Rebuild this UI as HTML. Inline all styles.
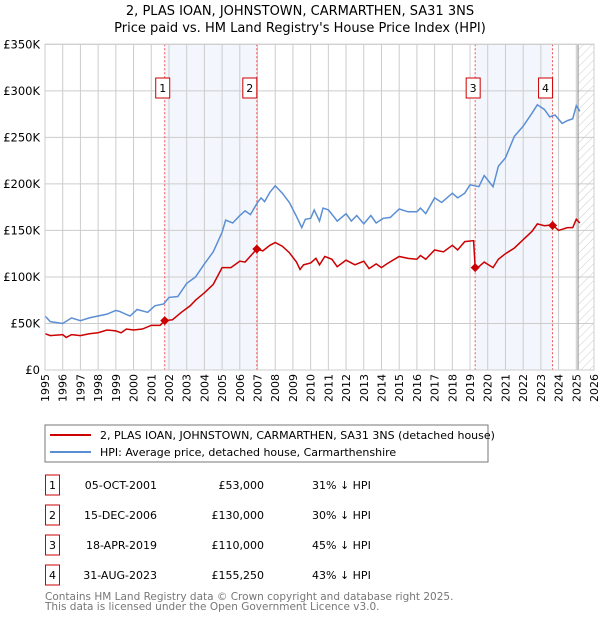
<!DOCTYPE html>
<html><head><meta charset="utf-8"><style>
body{margin:0;background:#fff;width:600px;height:620px;overflow:hidden;font-family:"DejaVu Sans","Liberation Sans",sans-serif}
svg text{font-family:"DejaVu Sans","Liberation Sans",sans-serif}
</style></head><body>
<svg id="c" width="600" height="620" xmlns="http://www.w3.org/2000/svg">
<defs><pattern id="hatch" width="6" height="6" patternUnits="userSpaceOnUse" patternTransform="rotate(45)"><line x1="0" y1="0" x2="0" y2="6" stroke="#ccc" stroke-width="1"/></pattern></defs>
<text x="300" y="15" text-anchor="middle" font-size="13">2, PLAS IOAN, JOHNSTOWN, CARMARTHEN, SA31 3NS</text>
<text x="300" y="32" text-anchor="middle" font-size="13">Price paid vs. HM Land Registry's House Price Index (HPI)</text>
<g id="plot"></g>
<rect x="45" y="425" width="443" height="37" fill="#fff" stroke="#777"/>
<line x1="50" y1="435" x2="91" y2="435" stroke="#cc0000" stroke-width="2"/>
<text x="100" y="439" font-size="11">2, PLAS IOAN, JOHNSTOWN, CARMARTHEN, SA31 3NS (detached house)</text>
<line x1="50" y1="452" x2="91" y2="452" stroke="#5b8fd4" stroke-width="2"/>
<text x="100" y="456" font-size="11">HPI: Average price, detached house, Carmarthenshire</text>
<g id="tbl" font-size="11"></g>
<text x="45" y="600" font-size="10.5" fill="#777">Contains HM Land Registry data © Crown copyright and database right 2025.</text>
<text x="45" y="610" font-size="10.5" fill="#777">This data is licensed under the Open Government Licence v3.0.</text>
</svg>
<script>
const hpiYears=[1995,1995.3,1996,1996.5,1997,1997.5,1998,1998.5,1999,1999.2,1999.8,2000.2,2000.8,2001.2,2001.7,2002,2002.5,2003,2003.5,2004,2004.5,2005,2005.2,2005.6,2006,2006.3,2006.6,2007,2007.2,2007.4,2007.7,2008,2008.4,2008.8,2009.2,2009.5,2009.7,2010,2010.2,2010.5,2010.7,2011,2011.3,2011.5,2012,2012.3,2012.6,2013,2013.4,2013.7,2014.1,2014.5,2015,2015.5,2016,2016.2,2016.5,2017,2017.4,2018,2018.3,2018.7,2019,2019.5,2019.8,2020.3,2020.6,2021,2021.5,2022,2022.5,2022.8,2023.2,2023.5,2023.8,2024.2,2024.5,2024.8,2025.0,2025.2];
const hpiValues=[58,52,50,56,53,56,58,60,64,63,58,65,62,69,71,78,79,93,100,114,127,148,161,158,166,171,167,180,185,181,191,198,190,180,165,153,162,163,172,160,174,172,165,160,168,160,166,157,166,158,163,164,173,170,170,174,168,185,180,190,185,190,199,197,209,197,219,228,251,262,276,285,280,272,274,265,268,270,284,278];
const ppYears=[1995,1995.3,1996,1996.2,1996.5,1997,1997.5,1998,1998.5,1999,1999.3,1999.6,2000,2000.5,2001,2001.5,2001.76,2002.2,2002.7,2003.2,2003.5,2004,2004.5,2005,2005.5,2006,2006.3,2006.96,2007.3,2007.7,2008,2008.4,2008.8,2009.2,2009.4,2009.6,2010,2010.3,2010.5,2010.8,2011.2,2011.5,2012,2012.5,2013,2013.3,2013.7,2014,2014.3,2015,2015.5,2016,2016.2,2016.5,2017,2017.5,2018,2018.3,2018.7,2019.2,2019.29,2019.5,2019.8,2020.3,2020.6,2021,2021.5,2022,2022.5,2022.8,2023.2,2023.66,2024,2024.5,2024.8,2025.0,2025.2];
const ppValues=[39,37,38,35,38,37,39,40,43,42,40,44,43,44,48,48,53,54,62,69,75,83,92,110,110,117,116,130,128,134,137,133,126,116,108,113,115,120,113,122,119,111,118,113,117,109,114,110,114,122,120,119,123,119,129,127,134,129,138,139,110,111,116,110,119,125,131,140,149,157,155,156,150,153,153,162,158];
const saleNums=["1","2","3","4"];
const saleYears=[2001.76,2006.96,2019.29,2023.66];
const salePrices=[53,130,110,155.25];
const saleDates=["05-OCT-2001","15-DEC-2006","18-APR-2019","31-AUG-2023"];
const saleLabels=["£53,000","£130,000","£110,000","£155,250"];
const salePcts=["31% \u2193 HPI","30% \u2193 HPI","45% \u2193 HPI","43% \u2193 HPI"];
const yTicks=[0,50,100,150,200,250,300,350];
const yTickLabels=["£0","£50K","£100K","£150K","£200K","£250K","£300K","£350K"];
const xTicks=[1995,1996,1997,1998,1999,2000,2001,2002,2003,2004,2005,2006,2007,2008,2009,2010,2011,2012,2013,2014,2015,2016,2017,2018,2019,2020,2021,2022,2023,2024,2025,2026];

const X0=45,X1=594,Y0=370,Y1=44.3;
const sx=v=>X0+(v-1995)/31*(X1-X0);
const sy=v=>Y0-v/350*(Y0-Y1);
const NS="http://www.w3.org/2000/svg";
function mk(p,t,a){const e=document.createElementNS(NS,t);for(const k in a)e.setAttribute(k,a[k]);p.appendChild(e);return e;}
const g=document.getElementById('plot');
for(let i=0;i<4;i+=2){const r=mk(g,'rect',{x:sx(saleYears[i]),y:Y1,width:sx(saleYears[i+1])-sx(saleYears[i]),height:Y0-Y1,fill:'#eef3fc',opacity:0.7});

}
const hx=sx(2025.1);
const hr=mk(g,'rect',{x:hx,y:Y1,width:X1-hx,height:Y0-Y1,fill:'url(#hatch)'});


xTicks.forEach(t=>{const l=mk(g,'line',{x1:sx(t),x2:sx(t),y1:Y1,y2:Y0,stroke:'#ccc'});


const tx=mk(g,'text',{x:0,y:0,'font-size':11,'text-anchor':'end',transform:`translate(${sx(t)+4},${Y0+4}) rotate(-90)`});tx.textContent=t;

});
yTicks.forEach((t,i)=>{const l=mk(g,'line',{x1:X0,x2:X1,y1:sy(t),y2:sy(t),stroke:'#ccc'});


const tx=mk(g,'text',{x:40,y:sy(t)+4,'font-size':11.5,'text-anchor':'end'});tx.textContent=yTickLabels[i];

});
const vl=mk(g,'line',{x1:hx,x2:hx,y1:Y1,y2:Y0,stroke:'#888','stroke-width':1});


saleYears.forEach((y,i)=>{const l=mk(g,'line',{x1:sx(y),x2:sx(y),y1:Y1,y2:Y0,stroke:'#e55','stroke-dasharray':'2,2'});

});
const hp=mk(g,'polyline',{points:hpiYears.map((y,i)=>sx(y)+','+sy(hpiValues[i])).join(' '),fill:'none',stroke:'#5b8fd4','stroke-width':1.5});


const pp=mk(g,'polyline',{points:ppYears.map((y,i)=>sx(y)+','+sy(ppValues[i])).join(' '),fill:'none',stroke:'#cc0000','stroke-width':1.5});


saleYears.forEach((y,i)=>{const cx=sx(y),cy=sy(salePrices[i]);
const d=mk(g,'path',{d:`M${cx},${cy-4.5}L${cx+4.5},${cy}L${cx},${cy+4.5}L${cx-4.5},${cy}Z`,fill:'#cc0000'});


const bx=(i%2===0)?cx-9:cx-14;
const b=mk(g,'rect',{x:bx,y:78,width:14,height:20,fill:'#fff',stroke:'#cc0000'});


const t=mk(g,'text',{x:bx+7,y:92,'font-size':11,'text-anchor':'middle'});t.textContent=saleNums[i];

});
const fr=mk(g,'rect',{x:X0,y:Y1,width:X1-X0,height:Y0-Y1,fill:'none',stroke:'#ccc'});


const tb=document.getElementById('tbl');
saleNums.forEach((n,i)=>{const y=475+i*30;
const b=mk(tb,'rect',{x:45.5,y:y,width:14,height:20,fill:'#fff',stroke:'#cc0000'});


const a=mk(tb,'text',{x:52.5,y:y+14,'text-anchor':'middle'});a.textContent=n;


const d=mk(tb,'text',{x:157,y:y+14,'text-anchor':'end'});d.textContent=saleDates[i];


const p=mk(tb,'text',{x:264,y:y+14,'text-anchor':'end'});p.textContent=saleLabels[i];


const c=mk(tb,'text',{x:312,y:y+14});c.textContent=salePcts[i];

});
</script>
</body></html>
